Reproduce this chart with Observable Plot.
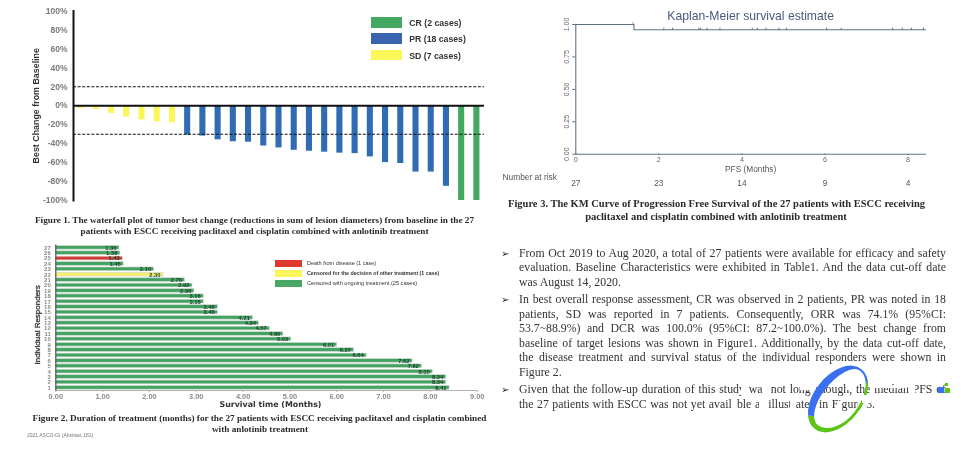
<!DOCTYPE html>
<html>
<head>
<meta charset="utf-8">
<script src="https://cdn.jsdelivr.net/npm/d3@7"></script>
<script src="https://cdn.jsdelivr.net/npm/@observablehq/plot@0.6"></script>
<style>
html,body{margin:0;padding:0;background:#fff;}
#root{position:relative;width:966px;height:454px;overflow:hidden;background:#fff;filter:blur(.4px);}
#root svg{position:absolute;background:transparent;overflow:visible;}
.t{position:absolute;white-space:nowrap;line-height:1;}
.cap{font:bold 9.22px "Liberation Serif",serif;color:#2a2a2a;transform:translate(-50%,-50%);}
.sw{position:absolute;}
.body{font:11.8px "Liberation Serif",serif;color:#333;position:absolute;left:519px;line-height:1;transform:translateY(-50%);white-space:nowrap;}
.just{width:427px;white-space:normal;text-align:justify;text-align-last:justify;}
.bul{font:10px "DejaVu Sans",sans-serif;color:#222;position:absolute;left:501px;transform:translateY(-50%);line-height:1;}
.mask{position:absolute;background:#fff;}
</style>
</head>
<body>
<div id="root"></div>
<script>
// ---------- Figure 1: waterfall ----------
const wfChange = [-3,-4,-8,-12,-15,-17,-18,-31,-32,-36,-38,-38.5,-42.5,-44.5,-47,-48,-49,-50,-50.5,-54,-60,-61,-70,-70,-85,-100,-100];
const wfResponse = ["SD","SD","SD","SD","SD","SD","SD","PR","PR","PR","PR","PR","PR","PR","PR","PR","PR","PR","PR","PR","PR","PR","PR","PR","PR","CR","CR"];
const wfPatients = wfChange.map((_, i) => i + 1);
const wfTicks = [-100,-80,-60,-40,-20,0,20,40,60,80,100];
const wfRefLines = [20,-30];

// ---------- Figure 2: swimmer ----------
const swRows = [27,26,25,24,23,22,21,20,19,18,17,16,15,14,13,12,11,10,9,8,7,6,5,4,3,2,1];
const swMonths = [1.36,1.38,1.43,1.45,2.10,2.30,2.76,2.92,2.96,3.16,3.16,3.46,3.46,4.21,4.34,4.57,4.86,5.03,6.01,6.37,6.64,7.62,7.82,8.05,8.34,8.34,8.41];
const swStatus = ["g","g","r","g","g","y","g","g","g","g","g","g","g","g","g","g","g","g","g","g","g","g","g","g","g","g","g"];
const swTicks = [0,1,2,3,4,5,6,7,8,9];

// ---------- Figure 3: KM ----------
const kmTime = [0,1.4,8.42];
const kmSurv = [1,0.96,0.96];
const kmCensor = [2.12,2.33,2.96,3.0,3.16,3.47,4.25,4.37,4.58,4.89,5.07,6.04,6.39,7.63,7.86,8.08,8.37];
const kmYTicks = [0,0.25,0.5,0.75,1];
const riskTimes = [0,2,4,6,8];
const riskCounts = [27,23,14,9,4];

// ---------- Text ----------
const cap1 = ["Figure 1. The waterfall plot of tumor best change (reductions in sum of lesion diameters)  from baseline in the 27","patients with ESCC receiving paclitaxel and cisplatin combined with anlotinib treatment"];
const cap2 = ["Figure 2. Duration of treatment (months) for the 27 patients with ESCC receiving paclitaxel and cisplatin combined","with anlotinib treatment"];
const cap3 = ["Figure 3. The KM Curve of Progression Free Survival of the 27 patients with ESCC receiving","paclitaxel and cisplatin combined with anlotinib treatment"];
const bodyLines = [
 "From Oct 2019 to Aug 2020, a total of 27 patients were available for efficacy and safety",
 "evaluation. Baseline Characteristics were exhibited in Table1. And the data cut-off date",
 "was August 14, 2020.",
 "In best overall response assessment, CR was observed in 2 patients, PR was noted in 18",
 "patients, SD was reported in 7 patients. Consequently, ORR was 74.1% (95%CI:",
 "53.7~88.9%) and DCR was 100.0% (95%CI: 87.2~100.0%). The best change from",
 "baseline of target lesions was shown in Figure1. Additionally, by the data cut-off date,",
 "the disease treatment and survival status of the individual responders were shown in",
 "Figure 2.",
 "Given that the follow-up duration of this study was not long enough, the median PFS of",
 "the 27 patients with ESCC was not yet available as illustrated in Figure 3."
];
const bodyY = [254,268.3,283,300,315,329,344,358,373,390,405];
const bodyJustified = [1,1,0,1,1,1,1,1,0,1,1];
const bulletLines = [0,3,9];

const root = document.getElementById("root");
function put(node,l,t){node.style.left=l+"px";node.style.top=t+"px";root.appendChild(node);return node;}
function label(text,l,t,css,cls="t"){const d=document.createElement("div");d.className=cls;d.textContent=text;if(css)d.style.cssText=css;put(d,l,t);return d;}
function box(l,t,w,h,c,cls="sw"){const d=document.createElement("div");d.className=cls;d.style.width=w+"px";d.style.height=h+"px";if(c)d.style.background=c;put(d,l,t);return d;}

// Figure 1
put(Plot.plot({
  width:490,height:240,marginTop:10.5,marginBottom:40,marginLeft:73,marginRight:6,
  style:{fontFamily:'"Liberation Sans",sans-serif',background:"transparent",overflow:"visible"},
  x:{type:"band",domain:wfPatients,paddingInner:.6,paddingOuter:.3,round:false,axis:null},
  y:{domain:[-100,100],axis:null},
  color:{domain:["CR","PR","SD"],range:["#43a860","#2f6cb4","#fbf65a"]},
  marks:[
    Plot.barY(wfChange,{x:(d,i)=>wfPatients[i],y:d=>d,fill:(d,i)=>wfResponse[i]}),
    Plot.ruleY(wfRefLines,{stroke:"#111",strokeWidth:1.1,strokeDasharray:"3,1.6"}),
    Plot.ruleY([0],{stroke:"#111",strokeWidth:2}),
    Plot.frame({anchor:"left",stroke:"#111",strokeWidth:2}),
    Plot.axisY(wfTicks,{tickSize:0,tickPadding:6,tickFormat:d=>d+"%",label:null,fontSize:8.5,fontWeight:"bold",fill:"#7a7a7a"}),
    Plot.text(["Best Change from Baseline"],{frameAnchor:"left",textAnchor:"middle",rotate:-90,dx:-37.5,fontSize:8.9,fontWeight:"bold",fill:"#333"})
  ]
}),0,0);

[["CR (2 cases)","#43a860",17.3],["PR (18 cases)","#3a64b2",33.4],["SD (7 cases)","#fbf65a",50]].forEach(([s,c,y])=>{
  box(371,y,30.5,10.3,c);
  label(s,409.3,y+.6,"font:bold 8.7px 'Liberation Sans',sans-serif;color:#333;");
});

cap1.forEach((s,i)=>label(s,254.5,[220,231][i],"",'t cap'));

// Figure 2
put(Plot.plot({
  width:490,height:175,marginTop:4.6,marginBottom:25,marginLeft:55.3,marginRight:13.3,
  style:{fontFamily:'"Liberation Sans",sans-serif',background:"transparent",overflow:"visible"},
  x:{domain:[0,9],axis:null},
  y:{type:"band",domain:swRows,paddingInner:.3,paddingOuter:.15,round:false,axis:null},
  color:{domain:["r","y","g"],range:["#d63a34","#f8ee68","#45a362"]},
  marks:[
    Plot.barX(swMonths,{x:d=>d,y:(d,i)=>swRows[i],fill:(d,i)=>swStatus[i],stroke:"#d5dcd7",strokeWidth:.7}),
    Plot.text(swMonths,{x:d=>d,y:(d,i)=>swRows[i],text:d=>d.toFixed(2),textAnchor:"end",dx:-3,fontSize:5.8,fontWeight:"bold",fill:"#1e3f2c"}),
    Plot.frame({anchor:"bottom",stroke:"#b5b5b5",strokeWidth:1.2}),
    Plot.frame({anchor:"left",stroke:"#555",strokeWidth:1.2}),
    Plot.axisX(swTicks,{anchor:"bottom",tickSize:2,tickPadding:1,tickFormat:d=>d.toFixed(2),label:null,fontSize:7.4,fontWeight:"bold",fill:"#8a8a8a",stroke:"#b5b5b5"}),
    Plot.axisY(swRows,{tickSize:0,tickPadding:5,label:null,fontSize:6,fontWeight:"bold",fill:"#8a8a8a"}),
    Plot.text(["Survival time (Months)"],{frameAnchor:"bottom",dx:4,dy:13.5,lineAnchor:"middle",fontSize:7.9,fontWeight:"bold",fill:"#333",fontFamily:'"DejaVu Sans",sans-serif'}),
    Plot.text(["Individual Responders"],{frameAnchor:"left",textAnchor:"middle",rotate:-90,dx:-18.5,dy:7,fontSize:8,fill:"#333",stroke:"#333",strokeWidth:.3,fontFamily:'"Liberation Sans Narrow","Liberation Sans",sans-serif'})
  ]
}),0,240);

[["Death from disease (1 case)","#e03a30",263,"normal",5.5],["Censored for the decision of other treatment (1 case)","#fbf65a",273,"bold",5.25],["Censored with ongoing treatment (25 cases)","#4aa864",283,"normal",5.6]].forEach(([s,c,y,w,fs])=>{
  box(275,y-3.5,27,7,c);
  label(s,307,y-2.8,`font:${w} ${fs}px 'Liberation Sans',sans-serif;color:#333;`);
});
cap2.forEach((s,i)=>label(s,[259.5,260][i],[417.7,428.6][i],"",'t cap'));
label("2021 ASCO-GI (Abstract 181)",27,431.8,"font:5px 'Liberation Sans',sans-serif;color:#777;");

// Figure 3
const km = "#5d7088";
put(Plot.plot({
  width:471,height:195,marginTop:24,marginBottom:41.3,marginLeft:80.3,marginRight:41,
  style:{fontFamily:'"Liberation Sans",sans-serif',background:"transparent",overflow:"visible"},
  x:{domain:[0,8.42],axis:null},
  y:{domain:[0,1],axis:null},
  marks:[
    Plot.frame({anchor:"left",stroke:km,strokeWidth:1.1}),
    Plot.frame({anchor:"bottom",stroke:km,strokeWidth:1.1}),
    Plot.line(kmTime,{x:d=>d,y:(d,i)=>kmSurv[i],curve:"step-after",stroke:km,strokeWidth:1.1}),
    Plot.ruleX([1.38],{x:d=>d,y1:0.995,y2:1.015,stroke:km,strokeWidth:.7}),
    Plot.ruleX(kmCensor,{x:d=>d,y1:0.955,y2:0.972,stroke:"#445",strokeWidth:.7}),
    Plot.axisX(riskTimes,{anchor:"bottom",tickSize:1.5,tickPadding:1.5,label:null,fontSize:7.2,fill:"#666",stroke:km}),
    Plot.axisY(kmYTicks,{tickSize:3,tickPadding:4,tickRotate:-90,tickFormat:d=>d.toFixed(2),label:null,fontSize:7,fill:"#666",stroke:km}),
    Plot.text(["Kaplan-Meier survival estimate"],{frameAnchor:"top",dy:-8,lineAnchor:"middle",fontSize:12.2,fill:"#4a5a7c"}),
    Plot.text(["PFS (Months)"],{frameAnchor:"bottom",dy:15,lineAnchor:"middle",fontSize:8.3,fill:"#555"}),
    Plot.text(["Number at risk"],{frameAnchor:"bottom-left",dx:-73.3,dy:22.6,lineAnchor:"middle",textAnchor:"start",fontSize:8.4,fill:"#555"}),
    Plot.text(riskCounts,{x:(d,i)=>riskTimes[i],text:d=>String(d),frameAnchor:"bottom",dy:29.6,lineAnchor:"middle",fontSize:8.3,fill:"#555"})
  ]
}),495,0);
cap3.forEach((s,i)=>label(s,[716.5,716][i],[202.7,215.7][i],"font-size:10.5px;",'t cap'));

// Text column
const bodyWidths = {10:356};
bodyLines.forEach((s,i)=>{
  const el = label(s,519,bodyY[i],"",'body'+(bodyJustified[i]?' just':''));
  if (bodyWidths[i]) el.style.width = bodyWidths[i]+"px";
});
bulletLines.forEach(i=>label("\u27A2",501,bodyY[i],"",'bul'));

// Watermark knock-outs over the last two lines
[[741,386,6,9],[763,386,6,9],[800,385,16,5],[846,385,3,5],[871,385,36,3],[910,385,5,9],
 [731,401,6,9],[759,401,8,9],[790,401,6,9],[813,401,4,9],[837,401,5,9],[858,401,6,9]].forEach(m=>box(m[0],m[1],m[2],m[3],"#fff","mask"));

// Logo ring
const ring = box(813.5,360.5,48,76,null,"sw");
ring.style.cssText += "box-sizing:border-box;border-radius:50%;border-style:solid;border-width:2px 3px 5px 8px;border-color:#3a6ff0 #5cc414 #5cc414 #3a6ff0;transform:rotate(38deg);";
box(862,395,9,8,"#fff","mask");
box(938,387,6,6,"#3a6ff0");
box(945,388,5,5,"#5cc414");
box(945,383,3,3,"#5cc414");
</script>
</body>
</html>
